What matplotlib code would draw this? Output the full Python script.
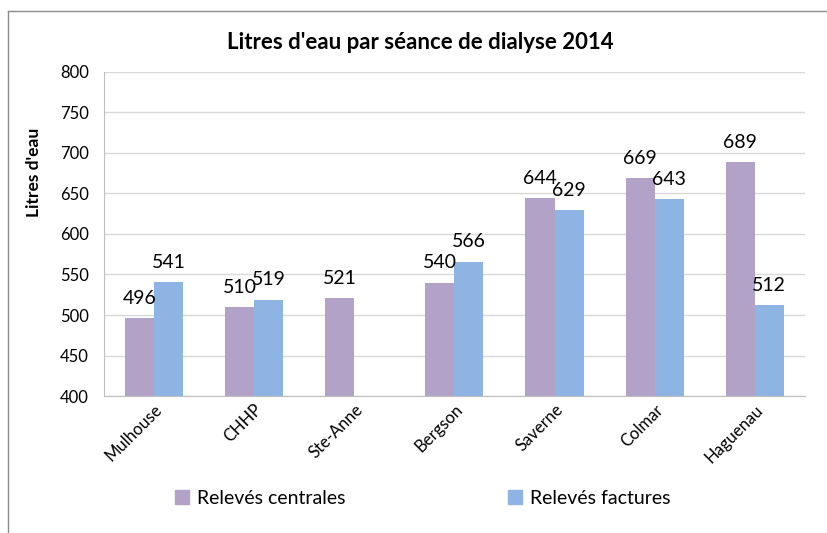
import numpy as np
import matplotlib.pyplot as plt
from matplotlib.lines import Line2D

# data
sites = ['Mulhouse', 'CHHP', 'Ste-Anne', 'Bergson', 'Saverne', 'Colmar', 'Haguenau']
centrales = [496, 510, 521, 540, 644, 669, 689]
factures = [541, 519, np.nan, 566, 629, 643, 512]
yticks = [400, 450, 500, 550, 600, 650, 700, 750, 800]

plt.rcParams['font.family'] = ['Lato', 'DejaVu Sans']

fig = plt.figure(figsize=(8.28, 5.33), dpi=100)
ax = fig.add_axes([0.1256, 0.257, 0.8464, 0.608])

x = np.arange(len(sites))
w = 0.29
b1 = ax.bar(x - w / 2, centrales, w, color='#B3A2C7', zorder=2, label='Relevés centrales')
b2 = ax.bar(x + w / 2, factures, w, color='#8EB4E3', zorder=2, label='Relevés factures')

for bars, vals in ((b1, centrales), (b2, factures)):
    for r, v in zip(bars, vals):
        if np.isnan(v):
            continue
        ax.annotate('%d' % v, (r.get_x() + r.get_width() / 2, v),
                    xytext=(0, 8), textcoords='offset points',
                    ha='center', va='bottom', fontsize=14, color='black')

ax.set_xlim(-0.5, len(sites) - 0.5)
ax.set_ylim(400, 800)
ax.set_yticks(yticks)
ax.tick_params(axis='y', length=0, labelsize=12, pad=11)
ax.tick_params(axis='x', length=0, labelsize=12, pad=4)
ax.set_xticks(x)
ax.set_xticklabels(sites, rotation=45, ha='right', rotation_mode='anchor')
ax.grid(axis='y', color='#D9D9D9', linewidth=1, zorder=0)

for s in ('top', 'right'):
    ax.spines[s].set_visible(False)
for s in ('left', 'bottom'):
    ax.spines[s].set_color('#BFBFBF')

ax.set_ylabel("Litres d'eau", fontsize=12.5, fontweight='bold')
ax.yaxis.set_label_coords(-0.089, 0.69)

fig.text(0.508, 0.92, "Litres d'eau par séance de dialyse 2014",
         ha='center', va='center', fontsize=16, fontweight='bold')

handles = [Line2D([], [], marker='s', linestyle='none', markersize=10, color='#B3A2C7'),
           Line2D([], [], marker='s', linestyle='none', markersize=10, color='#8EB4E3')]
fig.legend(handles, ['Relevés centrales', 'Relevés factures'], ncol=2,
           loc='center', bbox_to_anchor=(0.509, 0.065), frameon=False,
           fontsize=14, handletextpad=0.3, columnspacing=8.2, handlelength=1)

# frame lines of the chart area (left and top only are visible)
fig.add_artist(Line2D([0.01, 0.01], [0.0, 0.979], color='#8C8C8C', linewidth=1))
fig.add_artist(Line2D([0.01, 1.0], [0.979, 0.979], color='#8C8C8C', linewidth=1))

fig.savefig('out.png', dpi=100)
